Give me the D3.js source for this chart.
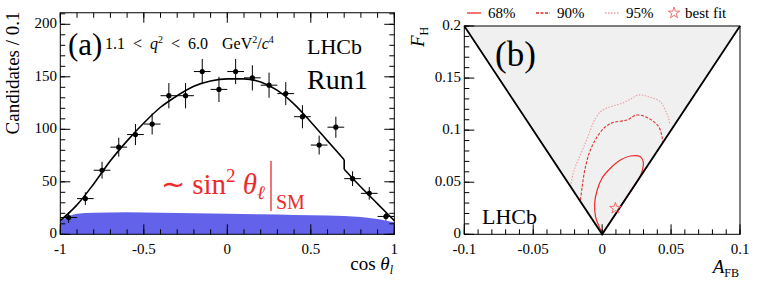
<!DOCTYPE html>
<html>
<head>
<meta charset="utf-8">
<script src="https://cdn.jsdelivr.net/npm/d3@7"></script>
<style>
  body { margin: 0; background: #fff; }
</style>
</head>
<body>
<div class="chart"></div>
<script>
// ---- panel (a) data ----
var binCenters = [-0.95, -0.85, -0.75, -0.65, -0.55, -0.45, -0.35, -0.25, -0.15, -0.05,
                  0.05, 0.15, 0.25, 0.35, 0.45, 0.55, 0.65, 0.75, 0.85, 0.95];
var counts = [16, 34, 61, 83, 95, 105, 132, 132, 155, 138,
              155, 149, 142, 134, 112, 85, 102, 53, 39, 17];
var countErr = [5, 6, 8, 9, 10, 10, 12, 12, 12, 12,
                12, 12, 12, 11, 11, 9, 10, 7, 6, 4];
// fit curve in two pieces, there is a small step at cos = 0.7
var fitX1 = [-1, -0.9, -0.8, -0.7, -0.6, -0.5, -0.4, -0.3, -0.2, -0.1, 0,
             0.1, 0.2, 0.3, 0.4, 0.5, 0.6, 0.7];
var fitY1 = [13, 28, 48, 70, 89, 106, 121, 132, 141, 146, 148,
             148, 145, 137, 124, 107, 89, 71];
var fitX2 = [0.7, 0.8, 0.9, 1];
var fitY2 = [62, 45, 29, 13];
var bkgX = [-1, -0.95, -0.9, -0.8, -0.6, -0.4, -0.2, 0, 0.2, 0.4, 0.6, 0.8, 0.9, 0.95, 1];
var bkgY = [13, 17, 19.5, 20.5, 21, 20.5, 20, 19.5, 19, 18.5, 18, 16.5, 14.5, 13, 11.5];
var xTicksA = [-1, -0.5, 0, 0.5, 1];
var yTicksA = [0, 50, 100, 150, 200];

// ---- panel (b) data ----
var contour68 = [[0, 0.001], [-0.0048, 0.017], [-0.0054, 0.030], [-0.0036, 0.0425], [0, 0.054],
                 [0.006, 0.0634], [0.0132, 0.0713], [0.0205, 0.0752], [0.0277, 0.0745], [0.0298, 0.0697],
                 [0.0289, 0.0601], [0.0265, 0.053], [0.015, 0.030], [0.005, 0.010], [0, 0.001]];
var contour90 = [[-0.0157, 0.0330], [-0.0145, 0.0457], [-0.0121, 0.065], [-0.0085, 0.081], [-0.0036, 0.0937],
                 [0.0024, 0.1033], [0.0084, 0.1075], [0.018, 0.1097], [0.0253, 0.1145], [0.0337, 0.1114],
                 [0.041, 0.1033], [0.0434, 0.0937], [0.044, 0.088]];
var contour95 = [[-0.0229, 0.0460], [-0.021, 0.0586], [-0.018, 0.0697], [-0.0133, 0.0841], [-0.0085, 0.1001],
                 [-0.0061, 0.1081], [-0.0012, 0.1177], [0.006, 0.1225], [0.0145, 0.1258], [0.0217, 0.1306],
                 [0.0265, 0.1338], [0.0337, 0.1321], [0.0422, 0.1273], [0.0458, 0.1193], [0.0482, 0.1114],
                 [0.049, 0.1056]];
var bestFit = [0.0096, 0.025];
var triangle = [[-0.1, 0.2], [0, 0], [0.1, 0.2]];
var xTicksB = [-0.1, -0.05, 0, 0.05, 0.1];
var yTicksB = [0, 0.05, 0.1, 0.15, 0.2];
var legendLabels = ["68%", "90%", "95%", "best fit"];

var svg = d3.select(".chart").append("svg")
  .attr("width", 763).attr("height", 284)
  .attr("font-family", "'Liberation Serif', 'Times New Roman', Times, serif");

var red = "#ee2a2a";

// ROOT-style inner ticks on a frame
function innerTicks(g, scale, values, orient, pos, len) {
  values.forEach(function (v) {
    var p = scale(v);
    if (orient === "bottom") g.append("line").attr("x1", p).attr("x2", p).attr("y1", pos).attr("y2", pos - len);
    if (orient === "top") g.append("line").attr("x1", p).attr("x2", p).attr("y1", pos).attr("y2", pos + len);
    if (orient === "left") g.append("line").attr("y1", p).attr("y2", p).attr("x1", pos).attr("x2", pos + len);
    if (orient === "right") g.append("line").attr("y1", p).attr("y2", p).attr("x1", pos).attr("x2", pos - len);
  });
  g.selectAll("line").attr("stroke", "#000").attr("stroke-width", 1);
}

// ===================== Panel (a) =====================
var xA = d3.scaleLinear().domain([-1, 1]).range([60.3, 394.3]);
var yA = d3.scaleLinear().domain([0, 200]).range([234.3, 24.3]);
var topA = yA(211);

// background band
var bkg = bkgX.map(function (x, i) { return [x, bkgY[i]]; });
svg.append("path")
  .datum(bkg)
  .attr("d", d3.area().x(d => xA(d[0])).y0(yA(0)).y1(d => yA(d[1])).curve(d3.curveMonotoneX))
  .attr("fill", "#6262ea");

// fit curve
var fitLine = d3.line().x(d => xA(d[0])).y(d => yA(d[1])).curve(d3.curveMonotoneX);
var fit1 = fitX1.map(function (x, i) { return [x, fitY1[i]]; });
var fit2 = fitX2.map(function (x, i) { return [x, fitY2[i]]; });
[fit1, fit2, [fit1[fit1.length - 1], fit2[0]]].forEach(function (seg) {
  svg.append("path")
    .datum(seg)
    .attr("d", fitLine)
    .attr("fill", "none").attr("stroke", "#000").attr("stroke-width", 1.6);
});

// data points
var pts = svg.append("g");
binCenters.forEach(function (c, i) {
  pts.append("line").attr("x1", xA(c - 0.05)).attr("x2", xA(c + 0.05))
    .attr("y1", yA(counts[i])).attr("y2", yA(counts[i]))
    .attr("stroke", "#000").attr("stroke-width", 1);
  pts.append("line").attr("x1", xA(c)).attr("x2", xA(c))
    .attr("y1", yA(counts[i] - countErr[i])).attr("y2", yA(counts[i] + countErr[i]))
    .attr("stroke", "#000").attr("stroke-width", 1);
  pts.append("circle").attr("cx", xA(c)).attr("cy", yA(counts[i])).attr("r", 2.6).attr("fill", "#000");
});

// frame
svg.append("rect").attr("x", xA(-1)).attr("y", topA)
  .attr("width", xA(1) - xA(-1)).attr("height", yA(0) - topA)
  .attr("fill", "none").attr("stroke", "#000").attr("stroke-width", 1);

var minorXA = d3.range(-1, 1.0001, 0.1);
var minorYA = d3.range(0, 211, 10);
innerTicks(svg.append("g"), xA, minorXA, "bottom", yA(0), 5);
innerTicks(svg.append("g"), xA, xTicksA, "bottom", yA(0), 10);
innerTicks(svg.append("g"), xA, minorXA, "top", topA, 5);
innerTicks(svg.append("g"), xA, xTicksA, "top", topA, 10);
innerTicks(svg.append("g"), yA, minorYA, "left", xA(-1), 5);
innerTicks(svg.append("g"), yA, yTicksA, "left", xA(-1), 10);
innerTicks(svg.append("g"), yA, minorYA, "right", xA(1), 5);
innerTicks(svg.append("g"), yA, yTicksA, "right", xA(1), 10);

// tick labels
svg.append("g").selectAll("text").data(xTicksA).enter().append("text")
  .attr("x", d => xA(d)).attr("y", 254).attr("text-anchor", "middle")
  .attr("font-size", 15).text(d => d);
svg.append("g").selectAll("text").data(yTicksA).enter().append("text")
  .attr("x", 57).attr("y", d => yA(d) + 4).attr("text-anchor", "end")
  .attr("font-size", 15).text(d => d);

// axis titles
svg.append("text")
  .attr("transform", "translate(19, 73) rotate(-90)")
  .attr("text-anchor", "middle").attr("font-size", 19)
  .text("Candidates / 0.1");
var xt = svg.append("text").attr("x", 393).attr("y", 270).attr("text-anchor", "end").attr("font-size", 19);
xt.append("tspan").text("cos ");
xt.append("tspan").attr("font-style", "italic").text("θ");
xt.append("tspan").attr("font-style", "italic").attr("font-size", 12).attr("dy", 4).text("l");

// labels inside
svg.append("text").attr("x", 68).attr("y", 55).attr("font-size", 31).text("(a)");
var q = svg.append("text").attr("x", 105).attr("y", 49).attr("font-size", 16);
q.append("tspan").text("1.1");
q.append("tspan").attr("dx", 8).text("<");
q.append("tspan").attr("dx", 8).attr("font-style", "italic").text("q");
q.append("tspan").attr("font-size", 10).attr("dy", -6).text("2");
q.append("tspan").attr("dx", 8).attr("dy", 6).text("<");
q.append("tspan").attr("dx", 8).text("6.0");
q.append("tspan").attr("dx", 14).text("GeV");
q.append("tspan").attr("font-size", 10).attr("dy", -6).text("2");
q.append("tspan").attr("dy", 6).text("/");
q.append("tspan").attr("font-style", "italic").text("c");
q.append("tspan").attr("font-size", 10).attr("dy", -6).text("4");
svg.append("text").attr("x", 307).attr("y", 54).attr("font-size", 22).text("LHCb");
svg.append("text").attr("x", 307).attr("y", 89).attr("font-size", 28).text("Run1");

// red annotation
var sm = svg.append("text").attr("x", 161).attr("y", 194).attr("font-size", 29).attr("fill", red);
sm.append("tspan").text("∼ sin");
sm.append("tspan").attr("font-size", 19).attr("dy", -12).text("2");
sm.append("tspan").attr("font-style", "italic").attr("dy", 12).text(" θ");
sm.append("tspan").attr("font-style", "italic").attr("font-size", 19).attr("dy", 5).text("ℓ");
svg.append("line").attr("x1", 271).attr("x2", 271).attr("y1", 161).attr("y2", 211)
  .attr("stroke", red).attr("stroke-width", 1.3);
svg.append("text").attr("x", 276).attr("y", 209).attr("font-size", 20).attr("fill", red).text("SM");

// ===================== Panel (b) =====================
var xB = d3.scaleLinear().domain([-0.1, 0.1]).range([464.3, 740]);
var yB = d3.scaleLinear().domain([0, 0.2]).range([234.3, 26]);

svg.append("path")
  .datum(triangle)
  .attr("d", d3.line().x(d => xB(d[0])).y(d => yB(d[1])))
  .attr("fill", "#f0f0f0").attr("stroke", "none");

var lineB = d3.line().x(d => xB(d[0])).y(d => yB(d[1])).curve(d3.curveCatmullRom);
svg.append("path").datum(contour95).attr("d", lineB)
  .attr("fill", "none").attr("stroke", "#f19a9a").attr("stroke-width", 1.1).attr("stroke-dasharray", "1.5,1.5");
svg.append("path").datum(contour90).attr("d", lineB)
  .attr("fill", "none").attr("stroke", "#e03030").attr("stroke-width", 1.1).attr("stroke-dasharray", "3,1.5");
svg.append("path").datum(contour68).attr("d", lineB)
  .attr("fill", "none").attr("stroke", red).attr("stroke-width", 1.2);

svg.append("path")
  .datum(triangle)
  .attr("d", d3.line().x(d => xB(d[0])).y(d => yB(d[1])))
  .attr("fill", "none").attr("stroke", "#000").attr("stroke-width", 1.8);

var star = d3.symbol().type(d3.symbolStar).size(40);
svg.append("path").attr("d", star())
  .attr("transform", `translate(${xB(bestFit[0])}, ${yB(bestFit[1])})`)
  .attr("fill", "none").attr("stroke", "#f06060").attr("stroke-width", 0.9);

svg.append("rect").attr("x", xB(-0.1)).attr("y", yB(0.2))
  .attr("width", xB(0.1) - xB(-0.1)).attr("height", yB(0) - yB(0.2))
  .attr("fill", "none").attr("stroke", "#000").attr("stroke-width", 1);

var minorXB = d3.range(-0.1, 0.10001, 0.01);
var minorYB = d3.range(0, 0.2001, 0.01);
innerTicks(svg.append("g"), xB, minorXB, "bottom", yB(0), 5);
innerTicks(svg.append("g"), xB, xTicksB, "bottom", yB(0), 10);
innerTicks(svg.append("g"), yB, minorYB, "left", xB(-0.1), 5);
innerTicks(svg.append("g"), yB, yTicksB, "left", xB(-0.1), 10);

svg.append("g").selectAll("text").data(xTicksB).enter().append("text")
  .attr("x", d => xB(d)).attr("y", 254).attr("text-anchor", "middle")
  .attr("font-size", 15).text(d => d);
svg.append("g").selectAll("text").data(yTicksB).enter().append("text")
  .attr("x", 461).attr("y", d => yB(d) + 4).attr("text-anchor", "end")
  .attr("font-size", 15).text(d => d);

var fh = svg.append("text").attr("transform", "translate(424, 47) rotate(-90)").attr("font-size", 19);
fh.append("tspan").attr("font-style", "italic").text("F");
fh.append("tspan").attr("font-size", 12).attr("dy", 4).text("H");
var afb = svg.append("text").attr("x", 739).attr("y", 273).attr("text-anchor", "end").attr("font-size", 19);
afb.append("tspan").attr("font-style", "italic").text("A");
afb.append("tspan").attr("font-size", 12).attr("dy", 4).text("FB");

svg.append("text").attr("x", 495).attr("y", 66).attr("font-size", 35).text("(b)");
svg.append("text").attr("x", 482).attr("y", 224).attr("font-size", 22).text("LHCb");

// legend
var legX = [467, 536, 605];
var legStyles = [
  { stroke: red, dash: null },
  { stroke: "#e03030", dash: "3,1.5" },
  { stroke: "#f19a9a", dash: "1.5,1.5" }
];
legStyles.forEach(function (s, i) {
  svg.append("line").attr("x1", legX[i]).attr("x2", legX[i] + 14).attr("y1", 13).attr("y2", 13)
    .attr("stroke", s.stroke).attr("stroke-width", 1.3).attr("stroke-dasharray", s.dash);
  svg.append("text").attr("x", legX[i] + 21).attr("y", 18).attr("font-size", 15).text(legendLabels[i]);
});
svg.append("path").attr("d", star()).attr("transform", "translate(674, 13)")
  .attr("fill", "none").attr("stroke", "#f06060").attr("stroke-width", 0.9);
svg.append("text").attr("x", 685).attr("y", 18).attr("font-size", 15).text(legendLabels[3]);
</script>
</body>
</html>
